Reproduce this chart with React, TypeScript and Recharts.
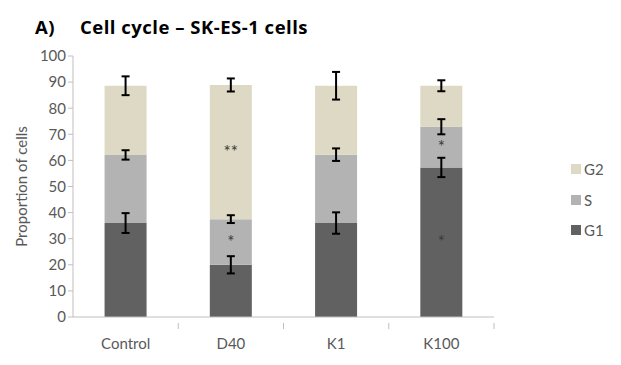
import React from 'react';
import { BarChart, Bar, XAxis, YAxis, ErrorBar, LabelList, Legend } from 'recharts';

const categories = ['Control', 'D40', 'K1', 'K100'];
const g1 = [36.0, 20.0, 36.0, 57.3];
const sPhase = [26.1, 17.5, 26.2, 15.6];
const g2 = [26.5, 51.4, 26.4, 15.7];
const g1Err = [3.8, 3.3, 4.1, 3.7];
const sErr = [1.8, 1.5, 2.4, 2.9];
const g2Err = [3.6, 2.5, 5.3, 2.1];
const g1Sig = ['', '', '', '*'];
const sSig = ['', '*', '', '*'];
const g2Sig = ['', '**', '', ''];
const yTicks = [0, 10, 20, 30, 40, 50, 60, 70, 80, 90, 100];

const series = [
  { key: 'G1', color: '#616161' },
  { key: 'S', color: '#b3b3b3' },
  { key: 'G2', color: '#ddd9c4' },
];

const data = categories.map((c, i) => ({
  name: c,
  G1: g1[i],
  S: sPhase[i],
  G2: g2[i],
  G1err: g1Err[i],
  Serr: sErr[i],
  G2err: g2Err[i],
  G1sig: g1Sig[i],
  Ssig: sSig[i],
  G2sig: g2Sig[i],
}));

const FONT = 'Lato, "Open Sans", sans-serif';
const TEXT = '#595959';
const AXIS = '#bfbfbf';

const LegendContent = () => (
  <div style={{ fontFamily: FONT, fontSize: 15, color: TEXT }}>
    {[...series].reverse().map((s) => (
      <div key={s.key} style={{ display: 'flex', alignItems: 'center', height: 30.5 }}>
        <div style={{ width: 10, height: 10, background: s.color, marginRight: 3 }} />
        <span>{s.key}</span>
      </div>
    ))}
  </div>
);

const XTick = (props: any) => {
  const { x, y, payload, width, visibleTicksCount } = props;
  const half = width / visibleTicksCount / 2;
  return (
    <g>
      <line x1={x + half} y1={y - 12} x2={x + half} y2={y - 6} stroke={AXIS} />
      <text x={x} y={y} dy={14} textAnchor="middle" fill={TEXT} fontSize={15} fontFamily={FONT}>
        {payload.value}
      </text>
    </g>
  );
};

const titleStyle: React.CSSProperties = {
  position: 'absolute',
  top: 14,
  fontFamily: '"Open Sans", sans-serif',
  fontWeight: 700,
  fontSize: 18.5,
  letterSpacing: 0.5,
  color: '#000',
  whiteSpace: 'pre',
};

export default function App() {
  return (
    <div style={{ position: 'fixed', left: 0, top: 0, width: 621, height: 365, background: '#fff' }}>
      <div style={{ ...titleStyle, left: 35 }}>A)</div>
      <div style={{ ...titleStyle, left: 80 }}>Cell cycle – SK-ES-1 cells</div>
      <BarChart
        width={621}
        height={365}
        data={data}
        margin={{ top: 56, right: 77, bottom: 18, left: 0 }}
        barCategoryGap="30%"
        style={{ position: 'absolute', left: 0, top: 0 }}
      >
        <XAxis
          dataKey="name"
          height={30}
          axisLine={{ stroke: AXIS }}
          tickLine={false}
          tick={<XTick />}
          tickMargin={12}
        />
        <YAxis
          width={73}
          domain={[0, 100]}
          ticks={yTicks}
          interval={0}
          axisLine={{ stroke: AXIS }}
          tickLine={{ stroke: AXIS }}
          tickSize={5}
          tick={{ fill: TEXT, fontSize: 15, fontFamily: FONT }}
          label={{
            value: 'Proportion of cells',
            angle: -90,
            position: 'insideLeft',
            offset: 22,
            style: { textAnchor: 'middle', fill: TEXT, fontSize: 15, fontFamily: FONT },
          }}
        />
        {series.map((s) => (
          <Bar key={s.key} dataKey={s.key} stackId="a" fill={s.color} isAnimationActive={false}>
            <ErrorBar dataKey={`${s.key}err`} width={4} stroke="#000" strokeWidth={2} direction="y" />
            <LabelList
              dataKey={`${s.key}sig`}
              position="center"
              style={{ fill: '#3a3a3a', fontSize: 17, fontFamily: FONT }}
            />
          </Bar>
        ))}
        <Legend
          layout="vertical"
          align="right"
          verticalAlign="top"
          content={<LegendContent />}
          wrapperStyle={{ position: 'absolute', left: 571, top: 154, width: 50 }}
        />
      </BarChart>
    </div>
  );
}
